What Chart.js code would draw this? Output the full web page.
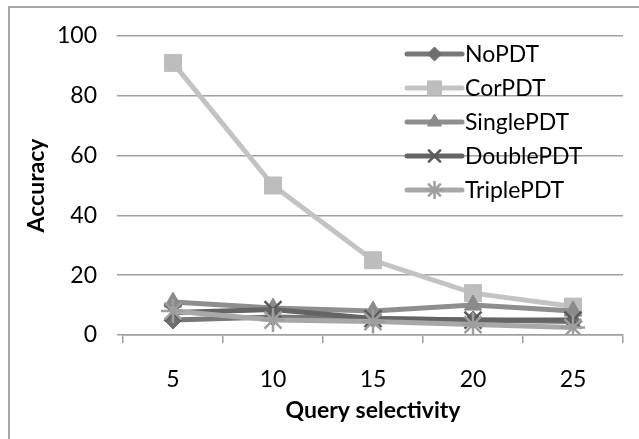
<!DOCTYPE html>
<html>
<head>
<meta charset="utf-8">
<script src="https://cdn.jsdelivr.net/npm/chart.js@4/dist/chart.umd.min.js"></script>
<style>
  html, body { margin: 0; padding: 0; background: #fff; overflow: hidden; }
  #frame { position: absolute; left: 8px; top: 6px; width: 700px; height: 500px; border: 2px solid #a6a6a6; }
  #wrap { position: absolute; left: 0; top: 0; width: 639px; height: 439px; }
</style>
</head>
<body>
<div id="frame"></div>
<div id="wrap"><canvas id="mychart" width="639" height="439"></canvas></div>
<script>
// Datos
const categories = ['5', '10', '15', '20', '25'];
const seriesNames = ['NoPDT', 'CorPDT', 'SinglePDT', 'DoublePDT', 'TriplePDT'];
const noPDT = [5, 6, 5.5, 5, 4.5];
const corPDT = [91, 50, 25, 14, 9.5];
const singlePDT = [11, 9, 8, 10, 8];
const doublePDT = [7.5, 8.5, 5.5, 5, 5];
const triplePDT = [8, 5, 4.5, 3.5, 2.5];
const yTicks = [0, 20, 40, 60, 80, 100];

const seriesValues = [noPDT, corPDT, singlePDT, doublePDT, triplePDT];
const lineColors = ['#787878', '#c3c3c3', '#8e8e8e', '#646464', '#a8a8a8'];
const markerColors = ['#6e6e6e', '#bdbdbd', '#8a8a8a', '#5a5a5a', '#9e9e9e'];
const markers = ['rectRot', 'rect', 'triangle', 'crossRot', 'star'];
const markerSizes = [9, 12, 10, 12, 12];
const legendRadius = [7, 10, 8, 9, 9];

const fontFamily = 'Lato, "Open Sans", sans-serif';
const fontSize = 23;

// Leyenda dibujada sobre el área del gráfico
const overlayLegend = {
  id: 'overlayLegend',
  afterDatasetsDraw(chart) {
    const ctx = chart.ctx;
    const x0 = 407, x1 = 462, y0 = 54, step = 34;
    ctx.save();
    chart.data.datasets.forEach((ds, i) => {
      const y = y0 + i * step;
      ctx.strokeStyle = ds.borderColor;
      ctx.lineWidth = 5;
      ctx.lineCap = 'round';
      ctx.beginPath();
      ctx.moveTo(x0, y);
      ctx.lineTo(x1, y);
      ctx.stroke();
      ctx.lineCap = 'butt';
      ctx.fillStyle = ds.pointBackgroundColor;
      ctx.strokeStyle = ds.pointBorderColor;
      ctx.lineWidth = ds.pointBorderWidth;
      Chart.helpers.drawPoint(ctx, {
        pointStyle: ds.pointStyle,
        radius: legendRadius[i],
        rotation: 0,
        borderWidth: ds.pointBorderWidth
      }, (x0 + x1) / 2, y);
      ctx.fillStyle = '#000';
      ctx.font = fontSize + 'px ' + fontFamily;
      ctx.textAlign = 'left';
      ctx.textBaseline = 'middle';
      ctx.fillText(ds.label, x1 + 3, y + 1);
    });
    ctx.restore();
  }
};

const ctxEl = document.querySelector('#mychart');
new Chart(ctxEl, {
  type: 'line',
  data: {
    labels: categories,
    datasets: seriesNames.map((name, i) => ({
      label: name,
      data: seriesValues[i],
      borderColor: lineColors[i],
      backgroundColor: markerColors[i],
      pointBackgroundColor: markerColors[i],
      pointBorderColor: markerColors[i],
      pointStyle: markers[i],
      pointRadius: markerSizes[i],
      pointBorderWidth: (i >= 3) ? 2.5 : 1,
      borderWidth: 5,
      tension: 0,
      order: 5 - i
    }))
  },
  options: {
    responsive: false,
    animation: false,
    layout: { padding: { left: 23, right: 16, top: 36, bottom: 15 } },
    plugins: {
      legend: { display: false },
      tooltip: { enabled: false }
    },
    scales: {
      x: {
        offset: true,
        grid: { offset: true, drawOnChartArea: false, color: '#a0a0a0', lineWidth: 1.5, tickLength: 8 },
        border: { color: '#a0a0a0', width: 1.5 },
        ticks: { color: '#000', font: { family: fontFamily, size: fontSize }, padding: 23 },
        title: { display: true, text: 'Query selectivity', color: '#000', font: { family: fontFamily, size: fontSize, weight: 'bold' }, padding: 0 },
        afterFit(scale) { scale.height = 89; }
      },
      y: {
        min: 0,
        max: 100,
        afterBuildTicks(scale) { scale.ticks = yTicks.map(v => ({ value: v })); },
        grid: { color: '#a0a0a0', lineWidth: 1.5, tickLength: 6 },
        border: { display: false },
        ticks: { color: '#000', font: { family: fontFamily, size: fontSize }, padding: 20 },
        title: { display: true, text: 'Accuracy', color: '#000', font: { family: fontFamily, size: fontSize, weight: 'bold' }, padding: 0 },
        afterFit(scale) { scale.width = 100; }
      }
    }
  },
  plugins: [overlayLegend]
});
</script>
</body>
</html>
